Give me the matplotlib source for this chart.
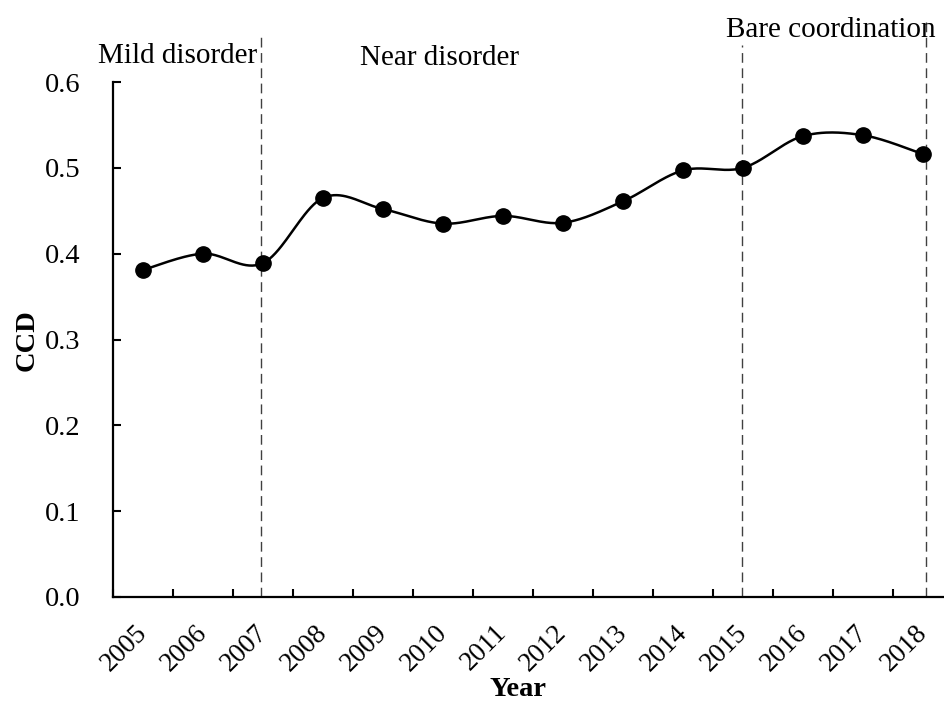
import numpy as np
import matplotlib
matplotlib.use("Agg")
import matplotlib.pyplot as plt

years = ["2005", "2006", "2007", "2008", "2009", "2010", "2011",
         "2012", "2013", "2014", "2015", "2016", "2017", "2018"]
ccd = [0.381, 0.400, 0.389, 0.465, 0.452, 0.435, 0.444,
       0.436, 0.461, 0.497, 0.500, 0.537, 0.538, 0.516]
yticks = [0.0, 0.1, 0.2, 0.3, 0.4, 0.5, 0.6]

stage_labels = ["Mild disorder", "Near disorder", "Bare coordination"]
stage_label_pos = [(-0.25, 0.622), (4.117, 0.620), (10.217, 0.6524)]
divider_x = [2.47, 10.48, 13.55]
divider_top = [0.657, 0.643, 0.672]

plt.rcParams['font.family'] = ['Liberation Serif', 'DejaVu Serif']

fig = plt.figure(figsize=(9.45, 7.02), dpi=100)
ax = fig.add_axes([113/945, 1-597/702, 840/945, (597-82)/702])

x = np.arange(len(years)) + 0.5
y = np.array(ccd)

# Catmull-Rom smoothing (Excel-like smoothed line)
P = np.column_stack([x, y])
Pp = np.vstack([P[0], P, P[-1]])
curve = []
for i in range(1, len(Pp) - 2):
    p0, p1, p2, p3 = Pp[i-1], Pp[i], Pp[i+1], Pp[i+2]
    c1 = p1 + (p2 - p0) / 6
    c2 = p2 - (p3 - p1) / 6
    t = np.linspace(0, 1, 40)[:, None]
    seg = ((1-t)**3)*p1 + 3*((1-t)**2)*t*c1 + 3*(1-t)*(t**2)*c2 + (t**3)*p2
    curve.append(seg)
curve = np.vstack(curve)

ax.plot(curve[:, 0], curve[:, 1], color='black', lw=1.8, zorder=3)
ax.plot(x, y, 'o', color='black', ms=11, zorder=4)

for dx, top in zip(divider_x, divider_top):
    ax.plot([dx, dx], [0, top], color='#404040', lw=1.0,
            linestyle=(0, (7, 4)), clip_on=False, zorder=2)

for txt, (tx, ty) in zip(stage_labels, stage_label_pos):
    ax.text(tx, ty, txt, ha='left', va='baseline', fontsize=21,
            clip_on=False)

ax.set_xlim(0, len(years))
ax.set_ylim(0, 0.6)
ax.set_xticks(np.arange(0, len(years) + 1))
ax.set_xticklabels([])
ax.set_xticks(x, minor=True)
ax.set_xticklabels(years, minor=True, rotation=45, ha='right',
                   va='center', rotation_mode='anchor', fontsize=19.5)
ax.tick_params(axis='x', which='major', direction='in', length=5.5, width=1.5)
ax.tick_params(axis='x', which='minor', length=0, pad=23)

ax.set_yticks(yticks)
ax.set_yticklabels([f"{v:.1f}" for v in yticks], fontsize=20.5)
ax.tick_params(axis='y', direction='in', length=5.5, width=1.5, pad=23.5)

for s in ['top', 'right']:
    ax.spines[s].set_visible(False)
for s in ['left', 'bottom']:
    ax.spines[s].set_linewidth(1.6)

ax.set_xlabel("Year", fontsize=20.5, fontweight='bold')
ax.set_ylabel("CCD", fontsize=20.5, fontweight='bold')
ax.xaxis.label.set_va('center')
ax.yaxis.label.set_va('center')
ax.xaxis.set_label_coords((518-113)/840, -(690-597)/515)
ax.yaxis.set_label_coords(-(113-27)/840, (597-340)/515)

fig.savefig("out.png", dpi=100)
